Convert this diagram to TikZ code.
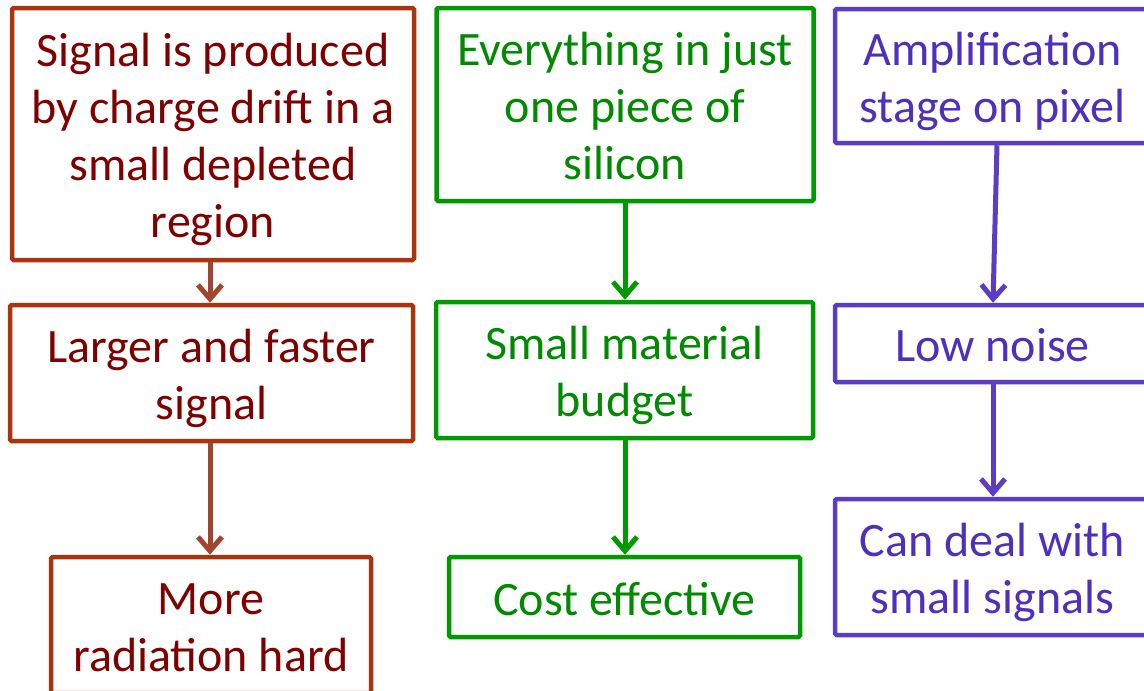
\documentclass[tikz,border=0pt]{standalone}
\usepackage{fontspec}
\setmainfont{Carlito}
\usetikzlibrary{arrows.meta}

\definecolor{rustline}{HTML}{A8350E}
\definecolor{rusttext}{HTML}{800000}
\definecolor{rustarrow}{HTML}{A0452F}
\definecolor{greenline}{HTML}{009A00}
\definecolor{greentext}{HTML}{008A00}
\definecolor{violetline}{HTML}{5B3CC4}
\definecolor{violettext}{HTML}{4E2FBE}

% centred lines of box text, set a little low in the box
\newcommand{\boxlines}[1]{\raisebox{-7pt}[\height][\depth]{\begin{tabular}{@{}c@{}}#1\end{tabular}}}

\tikzset{
  box/.style={draw, line width=4.5pt, fill=white, rounded corners=1.5pt,
    inner sep=0pt, anchor=center,
    font=\fontsize{48}{57}\selectfont},
  redbox/.style={box, draw=rustline, text=rusttext},
  greenbox/.style={box, draw=greenline, text=greentext},
  violetbox/.style={box, draw=violetline, text=violettext},
  flow/.style={line width=5pt, -{Straight Barb[length=14pt, width=24pt, line width=5pt]}},
}

\begin{document}
\begin{tikzpicture}[x=1pt, y=-1pt]
  \useasboundingbox (0,0) rectangle (1144,691);
  \clip (0,0) rectangle (1144,691);

  % left column
  \node[redbox, minimum width=402pt, minimum height=252pt] (r1) at (213,134)
    {\boxlines{Signal is produced\\by charge drift in a\\small depleted\\region}};
  \node[redbox, minimum width=403pt, minimum height=136pt] (r2) at (211.5,373)
    {\boxlines{Larger and faster\\signal}};
  \node[redbox, minimum width=320pt, minimum height=136pt] (r3) at (211,625)
    {\boxlines{More\\radiation hard}};

  % middle column
  \node[greenbox, minimum width=377pt, minimum height=193pt] (g1) at (625,104.5)
    {\boxlines{Everything in just\\one piece of\\silicon}};
  \node[greenbox, minimum width=377pt, minimum height=136pt] (g2) at (624.5,370)
    {\boxlines{Small material\\budget}};
  \node[greenbox, minimum width=351pt, minimum height=80pt] (g3) at (624.5,597)
    {\boxlines{Cost effective}};

  % right column
  \node[violetbox, minimum width=315pt, minimum height=134pt] (v1) at (992.5,76)
    {\boxlines{Amplification\\stage on pixel}};
  \node[violetbox, minimum width=315pt, minimum height=77pt] (v2) at (992.5,343.5)
    {\boxlines{Low noise}};
  \node[violetbox, minimum width=315pt, minimum height=136pt] (v3) at (992.5,567)
    {\boxlines{Can deal with\\small signals}};

  % connectors
  \draw[flow, rustarrow] ([xshift=-3pt]r1.south) -- ([xshift=-1.5pt]r2.north);
  \draw[flow, rustarrow] ([xshift=-1.5pt]r2.south) -- ([xshift=-1pt]r3.north);
  \draw[flow, greenline] (g1.south) -- ([xshift=0.5pt]g2.north);
  \draw[flow, greenline] ([xshift=0.5pt]g2.south) -- ([xshift=0.5pt]g3.north);
  \draw[flow, violetline] ([xshift=4.5pt]v1.south) -- ([xshift=0.5pt]v2.north);
  \draw[flow, violetline] ([xshift=0.5pt]v2.south) -- ([xshift=0.5pt]v3.north);
\end{tikzpicture}
\end{document}
